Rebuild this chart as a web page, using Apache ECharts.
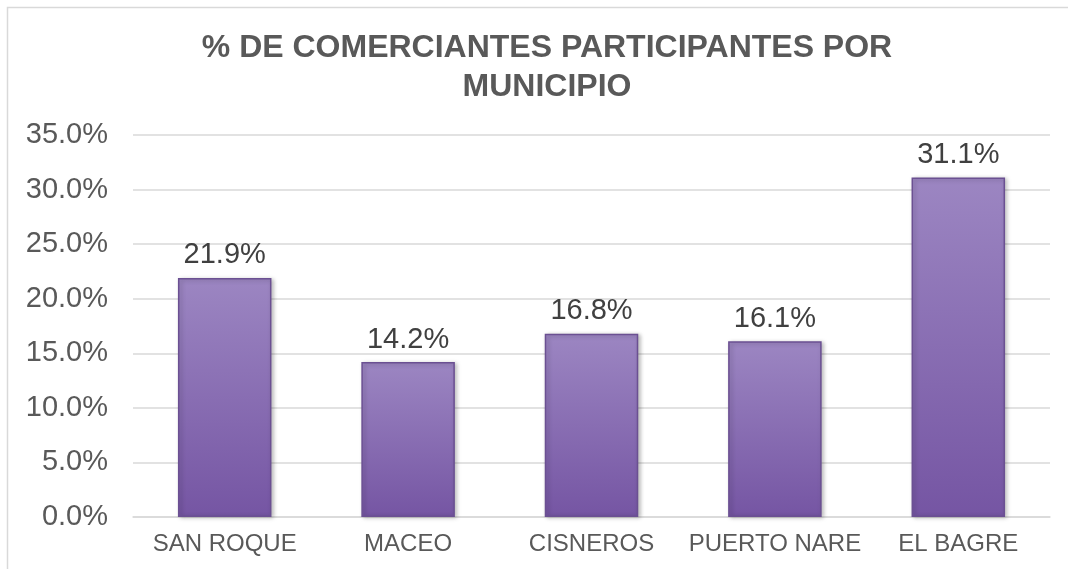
<!DOCTYPE html>
<html>
<head>
<meta charset="utf-8">
<script src="https://cdn.jsdelivr.net/npm/echarts@6/dist/echarts.min.js"></script>
<style>
  html, body { margin: 0; padding: 0; background: #fff; }
  #chart { width: 1068px; height: 569px; }
</style>
</head>
<body>
<div id="chart"></div>
<script>
// municipios y porcentajes
const municipios = ['SAN ROQUE', 'MACEO', 'CISNEROS', 'PUERTO NARE', 'EL BAGRE']
const porcentajes = [21.9, 14.2, 16.8, 16.1, 31.1]
const ejeY = { min: 0, max: 35, interval: 5 }

const chart = echarts.init(document.getElementById('chart'))

const option = {
  animation: false,
  textStyle: { fontFamily: '"Liberation Sans", Arial, sans-serif' },
  graphic: [{
    type: 'rect',
    shape: { x: 7.5, y: 7.5, width: 1100, height: 600 },
    style: { fill: 'none', stroke: '#d9d9d9', lineWidth: 1.5 },
    silent: true
  }],
  title: {
    text: '% DE COMERCIANTES PARTICIPANTES POR\nMUNICIPIO',
    left: 542,
    textAlign: 'center',
    top: 24,
    textStyle: {
      color: '#595959',
      fontSize: 32,
      fontWeight: 'bold',
      lineHeight: 39,
      fontFamily: '"Liberation Sans", Arial, sans-serif'
    }
  },
  grid: {
    left: 133,
    right: 18,
    top: 135,
    bottom: 52,
    containLabel: false
  },
  xAxis: {
    type: 'category',
    data: municipios,
    axisTick: { show: false },
    axisLine: { lineStyle: { color: '#d9d9d9', width: 1.5 } },
    axisLabel: {
      color: '#595959',
      fontSize: 24,
      margin: 15,
      interval: 0
    }
  },
  yAxis: {
    type: 'value',
    min: ejeY.min,
    max: ejeY.max,
    interval: ejeY.interval,
    axisLine: { show: false },
    axisTick: { show: false },
    axisLabel: {
      color: '#595959',
      fontSize: 29,
      margin: 25,
      formatter: v => v.toFixed(1) + '%'
    },
    splitLine: { lineStyle: { color: '#d9d9d9', width: 1.5 } }
  },
  series: [{
    type: 'bar',
    data: porcentajes,
    barWidth: '51%',
    itemStyle: {
      color: {
        type: 'linear', x: 0, y: 0, x2: 0, y2: 1,
        colorStops: [
          { offset: 0, color: '#9c86c2' },
          { offset: 1, color: '#7555a3' }
        ]
      },
      borderColor: '#6b5092',
      borderWidth: 1.5,
      shadowColor: 'rgba(0,0,0,0.25)',
      shadowBlur: 4,
      shadowOffsetX: 2,
      shadowOffsetY: 1
    },
    label: {
      show: true,
      position: 'top',
      distance: 8,
      color: '#404040',
      fontSize: 29,
      formatter: p => p.value.toFixed(1) + '%'
    }
  }]
}

chart.setOption(option)
</script>
</body>
</html>
